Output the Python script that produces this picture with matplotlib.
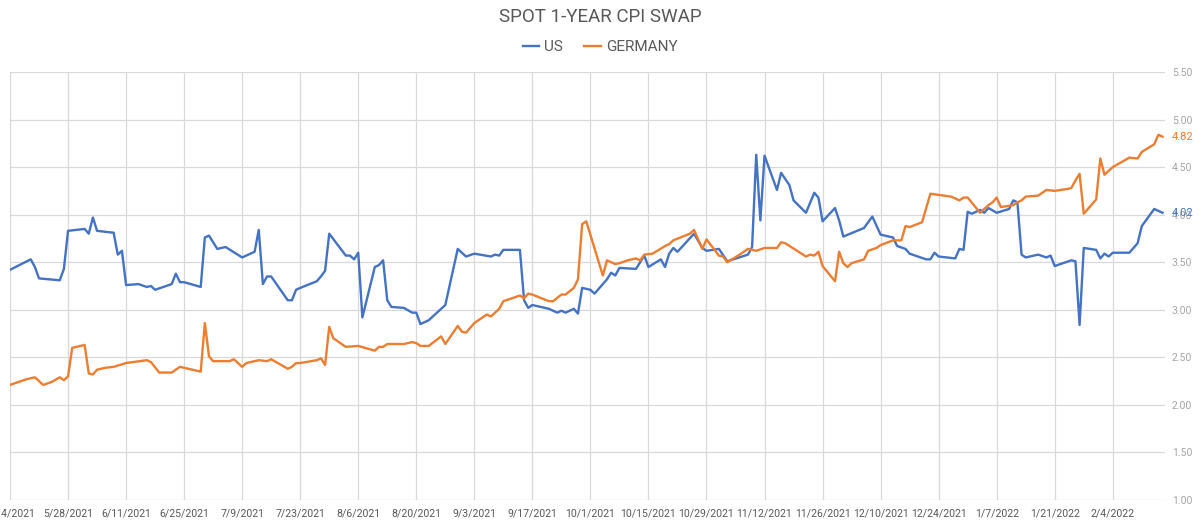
import pandas as pd
import matplotlib
matplotlib.use("Agg")
import matplotlib.pyplot as plt

plt.rcParams['font.family'] = ['Roboto', 'DejaVu Sans']

# spot 1-year CPI swap
us_dates = [
    "2021-05-14", "2021-05-19", "2021-05-20", "2021-05-21", "2021-05-26", "2021-05-27", "2021-05-28",
    "2021-06-01", "2021-06-02", "2021-06-03", "2021-06-04", "2021-06-08", "2021-06-09", "2021-06-10", "2021-06-11", "2021-06-14",
    "2021-06-16", "2021-06-17", "2021-06-18", "2021-06-22", "2021-06-23", "2021-06-24", "2021-06-25", "2021-06-29", "2021-06-30",
    "2021-07-01", "2021-07-03", "2021-07-05", "2021-07-09", "2021-07-12", "2021-07-13", "2021-07-14", "2021-07-15", "2021-07-16",
    "2021-07-20", "2021-07-21", "2021-07-22", "2021-07-23", "2021-07-27", "2021-07-28", "2021-07-29", "2021-07-30",
    "2021-08-03", "2021-08-04", "2021-08-05", "2021-08-06", "2021-08-07", "2021-08-10", "2021-08-11", "2021-08-12", "2021-08-13",
    "2021-08-14", "2021-08-17", "2021-08-19", "2021-08-20", "2021-08-21", "2021-08-23", "2021-08-24", "2021-08-26", "2021-08-27", "2021-08-30",
    "2021-09-01", "2021-09-03", "2021-09-07", "2021-09-08", "2021-09-09", "2021-09-10", "2021-09-14", "2021-09-15", "2021-09-16",
    "2021-09-17", "2021-09-21", "2021-09-23", "2021-09-24", "2021-09-25", "2021-09-27", "2021-09-28", "2021-09-29",
    "2021-10-01", "2021-10-02", "2021-10-05", "2021-10-06", "2021-10-07", "2021-10-08", "2021-10-12", "2021-10-14", "2021-10-15",
    "2021-10-18", "2021-10-19", "2021-10-20", "2021-10-21", "2021-10-22", "2021-10-26", "2021-10-28", "2021-10-29",
    "2021-11-01", "2021-11-03", "2021-11-08", "2021-11-09", "2021-11-10", "2021-11-11", "2021-11-12", "2021-11-15", "2021-11-16",
    "2021-11-18", "2021-11-19", "2021-11-22", "2021-11-24", "2021-11-25", "2021-11-26", "2021-11-29", "2021-11-30",
    "2021-12-01", "2021-12-06", "2021-12-08", "2021-12-10", "2021-12-13", "2021-12-14", "2021-12-16", "2021-12-17",
    "2021-12-21", "2021-12-22", "2021-12-23", "2021-12-24", "2021-12-28", "2021-12-29", "2021-12-30", "2021-12-31",
    "2022-01-01", "2022-01-03", "2022-01-04", "2022-01-05", "2022-01-07", "2022-01-10", "2022-01-11", "2022-01-12", "2022-01-13",
    "2022-01-14", "2022-01-17", "2022-01-19", "2022-01-20", "2022-01-21", "2022-01-25", "2022-01-26", "2022-01-27", "2022-01-28", "2022-01-31",
    "2022-02-01", "2022-02-02", "2022-02-03", "2022-02-04", "2022-02-08", "2022-02-09", "2022-02-10", "2022-02-11", "2022-02-14", "2022-02-16",
]
us_values = [
    3.42, 3.53, 3.45, 3.33, 3.31, 3.43, 3.83,
    3.85, 3.80, 3.97, 3.83, 3.81, 3.58, 3.62, 3.26, 3.27,
    3.24, 3.25, 3.21, 3.27, 3.38, 3.29, 3.29, 3.24, 3.76,
    3.78, 3.64, 3.66, 3.55, 3.61, 3.84, 3.27, 3.35, 3.35,
    3.10, 3.10, 3.21, 3.23, 3.30, 3.35, 3.41, 3.80,
    3.57, 3.57, 3.53, 3.60, 2.92, 3.45, 3.47, 3.52, 3.10,
    3.03, 3.02, 2.97, 2.97, 2.85, 2.89, 2.93, 3.01, 3.05, 3.64,
    3.56, 3.59, 3.56, 3.58, 3.57, 3.63, 3.63, 3.10, 3.02,
    3.05, 3.01, 2.97, 2.99, 2.97, 3.01, 2.96, 3.23,
    3.21, 3.17, 3.32, 3.39, 3.36, 3.44, 3.43, 3.57, 3.45,
    3.53, 3.45, 3.59, 3.65, 3.61, 3.80, 3.65, 3.62,
    3.64, 3.51, 3.58, 3.66, 4.63, 3.94, 4.62, 4.26, 4.44,
    4.31, 4.15, 4.02, 4.23, 4.18, 3.93, 4.07, 3.94,
    3.77, 3.86, 3.98, 3.79, 3.76, 3.67, 3.64, 3.59,
    3.53, 3.53, 3.60, 3.56, 3.54, 3.64, 3.63, 4.03,
    4.01, 4.05, 4.02, 4.07, 4.02, 4.06, 4.15, 4.13, 3.58,
    3.55, 3.58, 3.55, 3.57, 3.46, 3.52, 3.51, 2.84, 3.65, 3.63,
    3.54, 3.59, 3.56, 3.60, 3.60, 3.65, 3.70, 3.88, 4.06, 4.02,
]

de_dates = [
    "2021-05-14", "2021-05-18", "2021-05-20", "2021-05-22", "2021-05-24", "2021-05-26", "2021-05-27", "2021-05-28", "2021-05-29",
    "2021-06-01", "2021-06-02", "2021-06-03", "2021-06-04", "2021-06-06", "2021-06-08", "2021-06-11", "2021-06-16",
    "2021-06-17", "2021-06-19", "2021-06-22", "2021-06-23", "2021-06-24", "2021-06-26", "2021-06-29", "2021-06-30",
    "2021-07-01", "2021-07-02", "2021-07-06", "2021-07-07", "2021-07-09", "2021-07-10", "2021-07-13", "2021-07-15", "2021-07-16",
    "2021-07-20", "2021-07-21", "2021-07-22", "2021-07-23", "2021-07-27", "2021-07-28", "2021-07-29", "2021-07-30", "2021-07-31",
    "2021-08-03", "2021-08-06", "2021-08-10", "2021-08-11", "2021-08-12", "2021-08-13", "2021-08-17", "2021-08-19",
    "2021-08-20", "2021-08-21", "2021-08-23", "2021-08-26", "2021-08-27", "2021-08-30", "2021-08-31",
    "2021-09-01", "2021-09-03", "2021-09-06", "2021-09-07", "2021-09-09", "2021-09-10", "2021-09-14", "2021-09-15", "2021-09-16",
    "2021-09-17", "2021-09-21", "2021-09-22", "2021-09-24", "2021-09-25", "2021-09-27", "2021-09-28", "2021-09-29", "2021-09-30",
    "2021-10-04", "2021-10-05", "2021-10-07", "2021-10-08", "2021-10-10", "2021-10-12", "2021-10-13", "2021-10-14",
    "2021-10-16", "2021-10-19", "2021-10-20", "2021-10-21", "2021-10-25", "2021-10-26", "2021-10-28", "2021-10-29",
    "2021-11-01", "2021-11-02", "2021-11-03", "2021-11-06", "2021-11-08", "2021-11-10", "2021-11-12", "2021-11-15", "2021-11-16",
    "2021-11-17", "2021-11-22", "2021-11-23", "2021-11-24", "2021-11-25", "2021-11-26", "2021-11-29", "2021-11-30",
    "2021-12-01", "2021-12-02", "2021-12-03", "2021-12-06", "2021-12-07", "2021-12-09", "2021-12-10", "2021-12-13", "2021-12-15",
    "2021-12-16", "2021-12-17", "2021-12-20", "2021-12-22", "2021-12-27", "2021-12-29", "2021-12-30", "2021-12-31",
    "2022-01-03", "2022-01-05", "2022-01-06", "2022-01-07", "2022-01-08", "2022-01-11", "2022-01-12", "2022-01-13", "2022-01-14",
    "2022-01-17", "2022-01-19", "2022-01-21", "2022-01-24", "2022-01-25", "2022-01-26", "2022-01-27", "2022-01-28", "2022-01-31",
    "2022-02-01", "2022-02-02", "2022-02-04", "2022-02-08", "2022-02-10", "2022-02-11", "2022-02-14", "2022-02-15", "2022-02-16",
]
de_values = [
    2.21, 2.27, 2.29, 2.21, 2.24, 2.29, 2.26, 2.30, 2.60,
    2.63, 2.33, 2.32, 2.37, 2.39, 2.40, 2.44, 2.47,
    2.45, 2.34, 2.34, 2.37, 2.40, 2.38, 2.35, 2.86,
    2.51, 2.46, 2.46, 2.48, 2.40, 2.44, 2.47, 2.46, 2.48,
    2.38, 2.40, 2.44, 2.44, 2.47, 2.49, 2.42, 2.82, 2.70,
    2.61, 2.62, 2.57, 2.61, 2.61, 2.64, 2.64, 2.66,
    2.65, 2.62, 2.62, 2.72, 2.64, 2.83, 2.77,
    2.76, 2.86, 2.95, 2.93, 3.01, 3.09, 3.15, 3.12, 3.17,
    3.16, 3.09, 3.09, 3.16, 3.16, 3.23, 3.32, 3.90, 3.93,
    3.36, 3.52, 3.48, 3.49, 3.52, 3.54, 3.52, 3.58,
    3.59, 3.67, 3.69, 3.73, 3.80, 3.84, 3.64, 3.74,
    3.57, 3.56, 3.50, 3.58, 3.64, 3.62, 3.65, 3.65, 3.71,
    3.70, 3.56, 3.58, 3.57, 3.61, 3.46, 3.30, 3.61,
    3.49, 3.45, 3.49, 3.53, 3.62, 3.65, 3.68, 3.73, 3.73,
    3.88, 3.87, 3.92, 4.22, 4.19, 4.15, 4.18, 4.18,
    4.02, 4.10, 4.13, 4.18, 4.08, 4.10, 4.13, 4.15, 4.19,
    4.20, 4.26, 4.25, 4.27, 4.28, 4.36, 4.43, 4.01, 4.16,
    4.59, 4.42, 4.50, 4.60, 4.59, 4.66, 4.74, 4.84, 4.82,
]

us = pd.Series(us_values, index=pd.to_datetime(us_dates))
de = pd.Series(de_values, index=pd.to_datetime(de_dates))

blue = "#4472C4"
orange = "#ED7D31"
grey_txt = "#595959"
grid_c = "#D9D9D9"

fig = plt.figure(figsize=(12, 5.25), dpi=100)
ax = fig.add_axes([10 / 1200, 25 / 525, 1155 / 1200, 428 / 525])

ax.plot(us.index, us.values, color=blue, lw=1.7, label="US")
ax.plot(de.index, de.values, color=orange, lw=1.7, label="GERMANY")

start = pd.Timestamp("2021-05-14")
ax.set_xlim(start, start + pd.Timedelta(days=278.6))
ax.set_ylim(1.0, 5.5)

xticks = pd.date_range(start, periods=20, freq="14D")
ax.set_xticks(xticks)
ax.set_xticklabels([f"{d.month}/{d.day}/{d.year}" for d in xticks])
yticks = [1.0 + 0.5 * i for i in range(10)]
ax.set_yticks(yticks)
ax.set_yticklabels([f"{v:.2f}" for v in yticks])
ax.yaxis.tick_right()

ax.grid(True, color=grid_c, lw=0.9)
ax.set_axisbelow(True)
for s in ax.spines.values():
    s.set_visible(False)
ax.tick_params(axis="x", length=0, pad=6, labelsize=7.6, labelcolor=grey_txt)
ax.tick_params(axis="y", length=0, pad=5, labelsize=7.5, labelcolor="#A6A6A6")

# end-of-series value labels (sit on top of the axis labels, as in the original)
for ser, col in [(de, orange), (us, blue)]:
    ax.annotate(f"{ser.iloc[-1]:.2f}", xy=(1.0, ser.iloc[-1]), xycoords=("axes fraction", "data"),
                xytext=(5, 0), textcoords="offset points", va="center", ha="left",
                fontsize=8, color=col)

fig.suptitle("SPOT 1-YEAR CPI SWAP", y=0.985, fontsize=13.5, color=grey_txt)
fig.legend(loc="upper center", bbox_to_anchor=(0.5, 0.95), ncol=2, frameon=False,
           fontsize=11, handlelength=1.1, handletextpad=0.3, columnspacing=1.4,
           labelcolor=grey_txt)

fig.savefig("out.png", dpi=100)
